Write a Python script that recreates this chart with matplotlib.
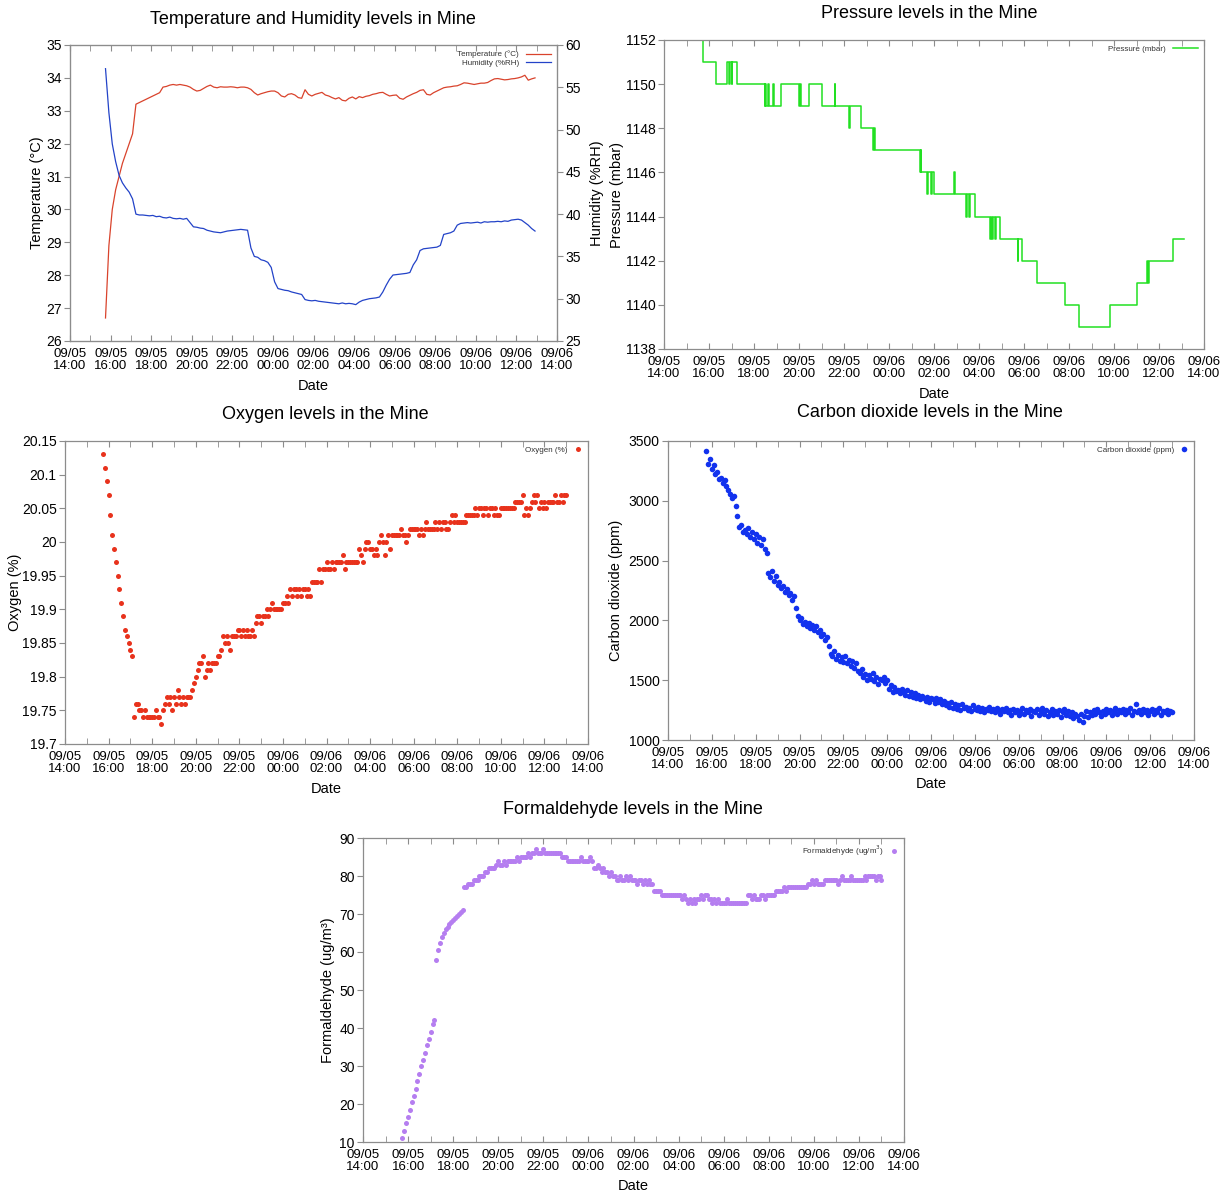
import numpy as np
import matplotlib
matplotlib.use('Agg')
import matplotlib.pyplot as plt
import matplotlib.dates as mdates
from matplotlib.ticker import MultipleLocator, FuncFormatter

plt.rcParams['font.family'] = ['Liberation Sans', 'DejaVu Sans']

# dane, start 09/05 15:45
start = np.datetime64('2021-09-05T15:45')

# temperatura i wilgotnosc co 10 min
temperature = [
    26.7, 28.9, 30.0, 30.6, 31.0, 31.4,
    31.7, 32.0, 32.3, 33.2, 33.25, 33.3,
    33.35, 33.4, 33.45, 33.5, 33.55, 33.72,
    33.74, 33.78, 33.8, 33.78, 33.8, 33.78,
    33.76, 33.72, 33.65, 33.6, 33.62, 33.68,
    33.74, 33.78, 33.72, 33.7, 33.73, 33.72,
    33.72, 33.73, 33.72, 33.7, 33.72, 33.72,
    33.7, 33.65, 33.55, 33.48, 33.52, 33.55,
    33.58, 33.6, 33.6, 33.55, 33.45, 33.42,
    33.5, 33.52, 33.48, 33.4, 33.38, 33.64,
    33.5, 33.45, 33.5, 33.53, 33.56, 33.48,
    33.45, 33.4, 33.36, 33.4, 33.32, 33.3,
    33.38, 33.42, 33.36, 33.43, 33.4, 33.44,
    33.46, 33.5, 33.52, 33.55, 33.56, 33.5,
    33.45, 33.47, 33.48, 33.38, 33.35, 33.42,
    33.47, 33.52, 33.56, 33.62, 33.64, 33.5,
    33.48, 33.55, 33.6, 33.65, 33.7, 33.72,
    33.73, 33.75, 33.76, 33.8, 33.85, 33.84,
    33.82, 33.8, 33.82, 33.84, 33.84, 33.86,
    33.92, 33.97, 33.98, 33.96, 33.94, 33.95,
    33.97, 33.98, 34.0, 34.03, 34.08, 33.93,
    33.97, 34.0,
]
humidity = [
    57.2, 52.0, 48.3, 46.2, 44.6, 43.7,
    43.1, 42.6, 41.8, 40.0, 39.9, 39.9,
    39.85, 39.8, 39.85, 39.7, 39.75, 39.6,
    39.55, 39.65, 39.5, 39.45, 39.5, 39.4,
    39.5, 39.0, 38.5, 38.45, 38.35, 38.3,
    38.1, 38.0, 37.9, 37.85, 37.8, 37.9,
    38.0, 38.05, 38.1, 38.15, 38.2, 38.15,
    38.1, 36.0, 35.0, 34.9, 34.6, 34.5,
    34.3, 33.7, 32.0, 31.2, 31.1, 31.0,
    30.95, 30.8, 30.7, 30.6, 30.5, 29.9,
    29.8, 29.75, 29.8, 29.7, 29.65, 29.6,
    29.55, 29.5, 29.45, 29.4, 29.5, 29.4,
    29.45, 29.4, 29.3, 29.6, 29.8, 29.9,
    30.0, 30.05, 30.1, 30.2, 30.8, 31.6,
    32.3, 32.8, 32.85, 32.9, 32.95, 33.0,
    33.1, 34.0, 34.6, 35.7, 35.9, 35.95,
    36.0, 36.05, 36.1, 36.3, 37.6, 37.7,
    37.8, 38.0, 38.7, 38.9, 38.95, 39.0,
    38.95, 39.0, 39.05, 38.95, 39.1, 39.05,
    39.1, 39.1, 39.15, 39.1, 39.2, 39.15,
    39.3, 39.35, 39.4, 39.3, 39.0, 38.7,
    38.3, 38.0,
]

# cisnienie - punkty zmiany wartosci
pressure_times = [
    '09-05T15:43', '09-05T15:44', '09-05T16:19', '09-05T16:49', '09-05T16:52',
    '09-05T16:55', '09-05T17:00', '09-05T17:02', '09-05T17:15', '09-05T18:28',
    '09-05T18:30', '09-05T18:33', '09-05T18:36', '09-05T18:40', '09-05T18:50',
    '09-05T18:52', '09-05T19:13', '09-05T20:01', '09-05T20:03', '09-05T20:06',
    '09-05T20:26', '09-05T21:00', '09-05T21:36', '09-05T21:37', '09-05T22:14',
    '09-05T22:16', '09-05T22:45', '09-05T23:17', '09-05T23:19', '09-05T23:22',
    '09-06T01:22', '09-06T01:24', '09-06T01:26', '09-06T01:42', '09-06T01:45',
    '09-06T01:52', '09-06T01:54', '09-06T02:00', '09-06T02:54', '09-06T02:55',
    '09-06T03:26', '09-06T03:29', '09-06T03:34', '09-06T03:37', '09-06T03:48',
    '09-06T04:28', '09-06T04:31', '09-06T04:34', '09-06T04:38', '09-06T04:42',
    '09-06T04:46', '09-06T04:56', '09-06T05:43', '09-06T05:45', '09-06T05:56',
    '09-06T06:34', '09-06T07:48', '09-06T08:27', '09-06T09:49', '09-06T11:02',
    '09-06T11:28', '09-06T11:30', '09-06T11:32', '09-06T12:36', '09-06T13:07',
]
pressure = [
    1152, 1151, 1150, 1151, 1150,
    1151, 1150, 1151, 1150, 1149,
    1150, 1149, 1150, 1149, 1150,
    1149, 1150, 1149, 1150, 1149,
    1150, 1149, 1150, 1149, 1148,
    1149, 1148, 1147, 1148, 1147,
    1146, 1147, 1146, 1145, 1146,
    1145, 1146, 1145, 1146, 1145,
    1144, 1145, 1144, 1145, 1144,
    1143, 1144, 1143, 1144, 1143,
    1144, 1143, 1142, 1143, 1142,
    1141, 1140, 1139, 1140, 1141,
    1142, 1141, 1142, 1143, 1143,
]

# tlen, CO2, formaldehyd co 5 min
oxygen = [
    20.13, 20.11, 20.09, 20.07, 20.04, 20.01, 19.99, 19.97, 19.95, 19.93, 19.91, 19.89,
    19.87, 19.86, 19.85, 19.84, 19.83, 19.74, 19.76, 19.76, 19.75, 19.75, 19.74, 19.75,
    19.74, 19.74, 19.74, 19.74, 19.74, 19.75, 19.74, 19.74, 19.73, 19.75, 19.76, 19.77,
    19.76, 19.77, 19.75, 19.77, 19.76, 19.78, 19.77, 19.76, 19.77, 19.76, 19.77, 19.77,
    19.77, 19.78, 19.79, 19.80, 19.81, 19.82, 19.82, 19.83, 19.80, 19.81, 19.82, 19.81,
    19.82, 19.82, 19.82, 19.83, 19.83, 19.84, 19.86, 19.85, 19.86, 19.85, 19.84, 19.86,
    19.86, 19.86, 19.87, 19.87, 19.86, 19.87, 19.86, 19.87, 19.86, 19.86, 19.87, 19.86,
    19.88, 19.89, 19.89, 19.88, 19.89, 19.89, 19.90, 19.89, 19.90, 19.91, 19.90, 19.90,
    19.90, 19.90, 19.90, 19.91, 19.91, 19.92, 19.91, 19.93, 19.92, 19.93, 19.93, 19.92,
    19.93, 19.92, 19.93, 19.93, 19.92, 19.93, 19.92, 19.94, 19.94, 19.94, 19.94, 19.96,
    19.94, 19.96, 19.96, 19.97, 19.96, 19.96, 19.97, 19.96, 19.97, 19.97, 19.97, 19.97,
    19.98, 19.96, 19.97, 19.97, 19.97, 19.97, 19.97, 19.97, 19.97, 19.99, 19.98, 19.97,
    19.99, 20.00, 20.00, 19.99, 19.99, 19.98, 19.99, 19.98, 20.00, 20.01, 20.00, 19.98,
    20.00, 20.01, 19.99, 20.01, 20.01, 20.01, 20.01, 20.01, 20.02, 20.01, 20.01, 20.00,
    20.01, 20.02, 20.02, 20.02, 20.02, 20.02, 20.01, 20.02, 20.01, 20.02, 20.03, 20.02,
    20.02, 20.02, 20.02, 20.03, 20.02, 20.03, 20.02, 20.03, 20.03, 20.02, 20.02, 20.03,
    20.04, 20.03, 20.04, 20.03, 20.03, 20.03, 20.03, 20.03, 20.04, 20.04, 20.04, 20.04,
    20.04, 20.05, 20.04, 20.05, 20.05, 20.04, 20.05, 20.05, 20.04, 20.05, 20.05, 20.04,
    20.05, 20.04, 20.04, 20.05, 20.05, 20.05, 20.05, 20.05, 20.05, 20.05, 20.05, 20.06,
    20.06, 20.06, 20.06, 20.07, 20.04, 20.05, 20.04, 20.05, 20.06, 20.07, 20.06, 20.07,
    20.05, 20.06, 20.05, 20.06, 20.05, 20.06, 20.06, 20.06, 20.06, 20.07, 20.06, 20.06,
    20.07, 20.06, 20.07, 20.07,
]
co2 = [
    3420, 3310, 3350, 3270, 3300, 3220, 3240, 3180, 3190, 3150, 3170, 3120,
    3090, 3060, 3020, 3040, 2960, 2870, 2780, 2800, 2740, 2760, 2720, 2770,
    2700, 2740, 2680, 2720, 2650, 2700, 2630, 2680, 2600, 2560, 2400, 2360,
    2410, 2330, 2370, 2300, 2320, 2270, 2290, 2240, 2260, 2210, 2230, 2170,
    2200, 2100, 2040, 2000, 2020, 1970, 1990, 1950, 1980, 1940, 1960, 1920,
    1950, 1900, 1920, 1870, 1890, 1840, 1860, 1790, 1720, 1700, 1740, 1680,
    1710, 1660, 1690, 1650, 1700, 1640, 1670, 1620, 1660, 1600, 1640, 1580,
    1560, 1590, 1530, 1550, 1500, 1540, 1510, 1560, 1490, 1530, 1470, 1510,
    1500, 1530, 1480, 1500, 1430, 1460, 1400, 1440, 1410, 1420, 1390, 1430,
    1400, 1380, 1420, 1370, 1400, 1360, 1390, 1350, 1380, 1340, 1370, 1350,
    1330, 1360, 1320, 1350, 1340, 1310, 1350, 1320, 1340, 1300, 1330, 1290,
    1310, 1280, 1320, 1270, 1300, 1260, 1290, 1250, 1300, 1270, 1280, 1250,
    1270, 1240, 1290, 1260, 1250, 1280, 1240, 1270, 1230, 1260, 1250, 1280,
    1240, 1260, 1230, 1270, 1250, 1220, 1260, 1240, 1270, 1230, 1250, 1210,
    1260, 1230, 1250, 1210, 1240, 1270, 1220, 1250, 1230, 1260, 1200, 1240,
    1230, 1260, 1210, 1240, 1270, 1220, 1250, 1200, 1230, 1260, 1210, 1240,
    1220, 1250, 1190, 1230, 1260, 1210, 1240, 1200, 1230, 1180, 1220, 1200,
    1170, 1220, 1150, 1200, 1240, 1190, 1230, 1210, 1250, 1220, 1260, 1230,
    1200, 1240, 1220, 1260, 1230, 1250, 1210, 1240, 1270, 1220, 1250, 1230,
    1260, 1220, 1250, 1230, 1270, 1210, 1240, 1300, 1230, 1250, 1220, 1260,
    1230, 1250, 1210, 1240, 1260, 1220, 1250, 1230, 1270, 1210, 1240, 1230,
    1250, 1220, 1240, 1230,
]
formaldehyde = [
    11, 13, 15, 16.5, 18.5, 20.5, 22, 24, 26, 28, 30, 31.5,
    33.5, 35.5, 37, 39, 41, 42, 58, 60.5, 62.5, 64, 65, 66,
    66.5, 67.5, 68, 68.5, 69, 69.5, 70, 70.5, 71, 77, 77, 78,
    78, 78, 79, 79, 79, 80, 80, 80, 81, 81, 82, 82,
    82, 82, 83, 84, 83, 83, 84, 83, 84, 84, 84, 84,
    84, 85, 84, 85, 85, 85, 85, 86, 85, 86, 86, 87,
    86, 86, 86, 87, 86, 86, 86, 86, 86, 86, 86, 86,
    86, 85, 85, 85, 84, 84, 84, 84, 84, 84, 84, 85,
    84, 84, 84, 84, 85, 84, 82, 82, 83, 82, 81, 82,
    81, 81, 80, 81, 80, 80, 79, 79, 80, 79, 79, 80,
    79, 80, 79, 79, 79, 78, 79, 79, 78, 79, 78, 79,
    78, 78, 76, 76, 76, 76, 75, 75, 75, 75, 75, 75,
    75, 75, 75, 75, 75, 74, 75, 74, 73, 74, 73, 74,
    73, 74, 74, 75, 74, 75, 75, 74, 74, 73, 74, 73,
    74, 73, 73, 73, 73, 74, 73, 73, 73, 73, 73, 73,
    73, 73, 73, 73, 75, 75, 74, 75, 74, 74, 74, 75,
    75, 74, 75, 75, 75, 75, 75, 76, 76, 76, 76, 77,
    76, 77, 77, 77, 77, 77, 77, 77, 77, 77, 77, 77,
    78, 78, 79, 78, 79, 78, 78, 78, 78, 79, 79, 79,
    79, 79, 79, 79, 78, 79, 80, 79, 79, 79, 79, 80,
    79, 79, 79, 79, 79, 79, 80, 79, 80, 80, 80, 80,
    79, 80, 80, 79,
]


def times(values, step_min):
    return start + np.arange(len(values)) * np.timedelta64(step_min, 'm')


def rect(l, t, r, b):
    return [l / 1220, 1 - b / 1194, (r - l) / 1220, (b - t) / 1194]


frame = '#8c8c8c'
x_from = np.datetime64('2021-09-05T14:00')
x_to = np.datetime64('2021-09-06T14:00')


def style(ax, label_x, date_y):
    ax.set_xlim(x_from, x_to)
    ax.xaxis.set_major_locator(mdates.HourLocator(byhour=range(0, 24, 2)))
    ax.xaxis.set_minor_locator(mdates.HourLocator())
    ax.xaxis.set_major_formatter(mdates.DateFormatter('%m/%d\n%H:%M'))
    for s in ax.spines.values():
        s.set_color(frame)
        s.set_linewidth(0.9)
    ax.tick_params(axis='x', which='both', direction='in', top=True, length=4,
                   color=frame, labelsize=9.5, pad=5)
    ax.tick_params(axis='y', which='both', direction='out', length=4,
                   color=frame, labelsize=10, pad=2, right=False)
    for lab in ax.get_xticklabels():
        lab.set_linespacing(1.0)
    ax.set_xlabel('Date', fontsize=10.5)
    ax.xaxis.set_label_coords(0.5, date_y)
    ax.xaxis.label.set_va('center')
    ax.yaxis.set_label_coords(label_x, 0.5)
    ax.yaxis.label.set_va('center')


def legend(ax, **kw):
    leg = ax.legend(loc='upper right', markerfirst=False, frameon=False,
                    fontsize=5.8, borderaxespad=0.3, labelspacing=0.15, **kw)
    for txt in leg.get_texts():
        txt.set_color('#333333')


fig = plt.figure(figsize=(12.2, 11.94), dpi=100)

# temperatura i wilgotnosc
ax1 = fig.add_axes(rect(70, 45, 557, 341))
ax1b = ax1.twinx()
l1, = ax1.plot(times(temperature, 10), temperature, color='#d9432c', lw=0.9,
               label='Temperature (°C)')
l2, = ax1b.plot(times(humidity, 10), humidity, color='#2343c8', lw=0.9,
                label='Humidity (%RH)')
ax1.set_ylim(26, 35)
ax1.yaxis.set_major_locator(MultipleLocator(1))
ax1b.set_ylim(25, 60)
ax1b.yaxis.set_major_locator(MultipleLocator(5))
ax1.set_ylabel('Temperature (°C)', fontsize=10.5)
style(ax1, -0.068, -45 / 296)
ax1b.tick_params(axis='y', direction='out', length=4, color=frame, labelsize=10, pad=2)
for s in ax1b.spines.values():
    s.set_color(frame)
ax1b.set_ylabel('Humidity (%RH)', fontsize=10.5)
ax1b.yaxis.set_label_coords(1.082, 0.5)
ax1b.yaxis.label.set_va('center')
legend(ax1b, handles=[l1, l2], handlelength=3.2)

# cisnienie
ax2 = fig.add_axes(rect(664, 40, 1204, 349))
p_times = np.array(['2021-' + t for t in pressure_times], dtype='datetime64[m]')
ax2.plot(p_times, pressure, drawstyle='steps-post', color='#22e022', lw=1.1,
         label='Pressure (mbar)')
ax2.set_ylim(1138, 1152)
ax2.yaxis.set_major_locator(MultipleLocator(2))
ax2.set_ylabel('Pressure (mbar)', fontsize=10.5)
style(ax2, -0.087, -45 / 309)
legend(ax2, handlelength=3.2)

# tlen
ax3 = fig.add_axes(rect(65, 441, 588, 744))
ax3.plot(times(oxygen, 5), oxygen, 'o', ms=3.6, mec='none', color='#e8321c',
         label='Oxygen (%)')
ax3.set_ylim(19.7, 20.15)
ax3.yaxis.set_major_locator(MultipleLocator(0.05))
ax3.yaxis.set_major_formatter(FuncFormatter(lambda v, p: '{:g}'.format(round(v, 2))))
ax3.set_ylabel('Oxygen (%)', fontsize=10.5)
style(ax3, -0.096, -45 / 303)
legend(ax3, handlelength=1, numpoints=1)

# CO2
ax4 = fig.add_axes(rect(668, 441, 1194, 740))
ax4.plot(times(co2, 5), co2, 'o', ms=4.0, mec='none', color='#1232ee',
         label='Carbon dioxide (ppm)')
ax4.set_ylim(1000, 3500)
ax4.yaxis.set_major_locator(MultipleLocator(500))
ax4.set_ylabel('Carbon dioxide (ppm)', fontsize=10.5)
style(ax4, -0.099, -44 / 299)
legend(ax4, handlelength=1, numpoints=1)

# formaldehyd
ax5 = fig.add_axes(rect(363, 838, 904, 1142))
ax5.plot(times(formaldehyde, 5), formaldehyde, 'o', ms=3.6, mec='none',
         color='#b57ef0', label='Formaldehyde (ug/m$^3$)')
ax5.set_ylim(10, 90)
ax5.yaxis.set_major_locator(MultipleLocator(10))
ax5.set_ylabel('Formaldehyde (ug/m³)', fontsize=10.5)
style(ax5, -0.065, -44 / 304)
legend(ax5, handlelength=1, numpoints=1)

# tytuly
fig.text(313 / 1220, 1 - 20 / 1194, 'Temperature and Humidity levels in Mine',
         ha='center', va='center', fontsize=13)
fig.text(929 / 1220, 1 - 13 / 1194, 'Pressure levels in the Mine',
         ha='center', va='center', fontsize=13)
fig.text(325 / 1220, 1 - 414 / 1194, 'Oxygen levels in the Mine',
         ha='center', va='center', fontsize=13)
fig.text(930 / 1220, 1 - 413 / 1194, 'Carbon dioxide levels in the Mine',
         ha='center', va='center', fontsize=13)
fig.text(633 / 1220, 1 - 809 / 1194, 'Formaldehyde levels in the Mine',
         ha='center', va='center', fontsize=13)

fig.savefig('out.png', dpi=100)
